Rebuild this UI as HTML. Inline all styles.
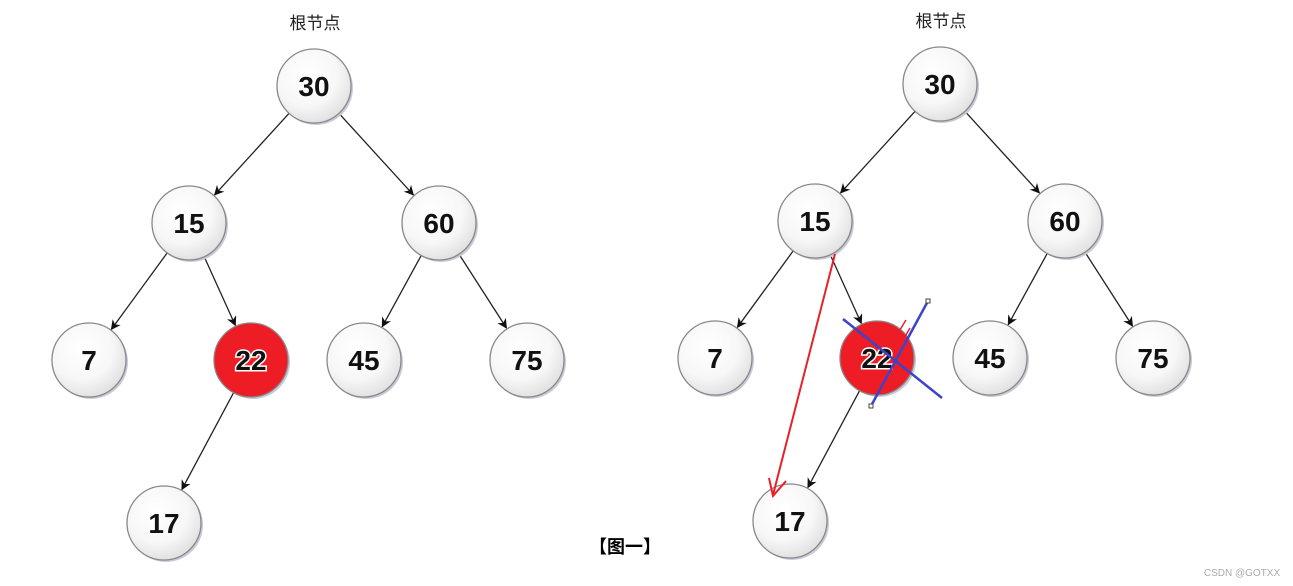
<!DOCTYPE html>
<html><head><meta charset="utf-8"><style>
html,body{margin:0;padding:0;background:#fff;width:1293px;height:586px;overflow:hidden}
svg{display:block}
</style></head><body>
<svg id="s" width="1293" height="586" viewBox="0 0 1293 586" xmlns="http://www.w3.org/2000/svg">
<defs>
<radialGradient id="g" cx="40%" cy="35%" r="70%">
<stop offset="0" stop-color="#ffffff"/><stop offset="0.6" stop-color="#f7f7f7"/><stop offset="1" stop-color="#dedede"/>
</radialGradient>
<marker id="a" markerWidth="10" markerHeight="10" refX="9" refY="5" orient="auto" markerUnits="userSpaceOnUse">
<path d="M0,0 L10,5 L0,10 L3,5 z" fill="#111"/>
</marker>
</defs>
<text x="315" y="29" font-family="'Liberation Sans','Noto Sans CJK SC',sans-serif" font-size="17" text-anchor="middle" fill="#222">根节点</text>
<text x="941" y="27" font-family="'Liberation Sans','Noto Sans CJK SC',sans-serif" font-size="17" text-anchor="middle" fill="#222">根节点</text>
<text x="625" y="553" font-family="'Liberation Sans','Noto Sans CJK SC',sans-serif" font-size="18" font-weight="bold" text-anchor="middle" fill="#000">【图一】</text>
<text x="1242" y="576" font-family="'Liberation Sans',sans-serif" font-size="10" text-anchor="middle" fill="#aaa">CSDN @GOTXX</text>
<g id="e"></g><g id="n"></g>
<g id="ov">
<line x1="835" y1="254" x2="773" y2="495" stroke="#e8202a" stroke-width="2"/>
<polyline points="769,478 773,496 786,481" fill="none" stroke="#e8202a" stroke-width="2"/>
<line x1="843" y1="319" x2="942" y2="398" stroke="#3c44c8" stroke-width="2.5"/>
<line x1="928" y1="301" x2="871" y2="406" stroke="#3c44c8" stroke-width="2.5"/>
<rect x="926" y="299" width="4" height="4" fill="#fff" stroke="#444"/>
<rect x="869" y="404" width="4" height="4" fill="#fff" stroke="#444"/>
<path d="M898,333 L906,320 M903,340 L910,328" stroke="#e8202a" stroke-width="1.5"/>
</g>
</svg>
<script>
var R=37,NS="http://www.w3.org/2000/svg";
function tree(dx,dy){
 var N={30:[314,86],15:[189,223],60:[439,223],7:[89,360],22:[251,360],45:[364,360],75:[527,360],17:[164,523]};
 for(var k in N){N[k][0]+=dx;N[k][1]+=dy;}
 var E=[[30,15],[30,60],[15,7],[15,22],[60,45],[60,75],[22,17]];
 var eg=document.getElementById('e'),ng=document.getElementById('n');
 E.forEach(function(p){var a=N[p[0]],b=N[p[1]],vx=b[0]-a[0],vy=b[1]-a[1],l=Math.hypot(vx,vy);vx/=l;vy/=l;
  var ln=document.createElementNS(NS,'line');
  ln.setAttribute('x1',a[0]+vx*R);ln.setAttribute('y1',a[1]+vy*R);
  ln.setAttribute('x2',b[0]-vx*(R+1));ln.setAttribute('y2',b[1]-vy*(R+1));
  ln.setAttribute('stroke','#222');ln.setAttribute('stroke-width','1.3');ln.setAttribute('marker-end','url(#a)');eg.appendChild(ln);});
 for(var k in N){var c=N[k];
  var sh=document.createElementNS(NS,'circle');sh.setAttribute('cx',c[0]+2);sh.setAttribute('cy',c[1]+2);sh.setAttribute('r',R);sh.setAttribute('fill','#c8cad8');ng.appendChild(sh);
  var ci=document.createElementNS(NS,'circle');ci.setAttribute('cx',c[0]);ci.setAttribute('cy',c[1]);ci.setAttribute('r',R);
  ci.setAttribute('fill',k=='22'?'#ee1c25':'url(#g)');ci.setAttribute('stroke','#888');ci.setAttribute('stroke-width','1.3');ng.appendChild(ci);
  var t=document.createElementNS(NS,'text');t.setAttribute('x',c[0]);t.setAttribute('y',c[1]+10);t.setAttribute('text-anchor','middle');
  t.setAttribute('font-family','Liberation Sans, sans-serif');t.setAttribute('font-size','28');t.setAttribute('font-weight','bold');t.setAttribute('fill','#111');
  if(k=='22'){t.setAttribute('stroke','#fff');t.setAttribute('stroke-width','3');t.setAttribute('paint-order','stroke');}
  t.textContent=k;ng.appendChild(t);}
}
tree(0,0);tree(626,-2);
</script>
</body></html>
